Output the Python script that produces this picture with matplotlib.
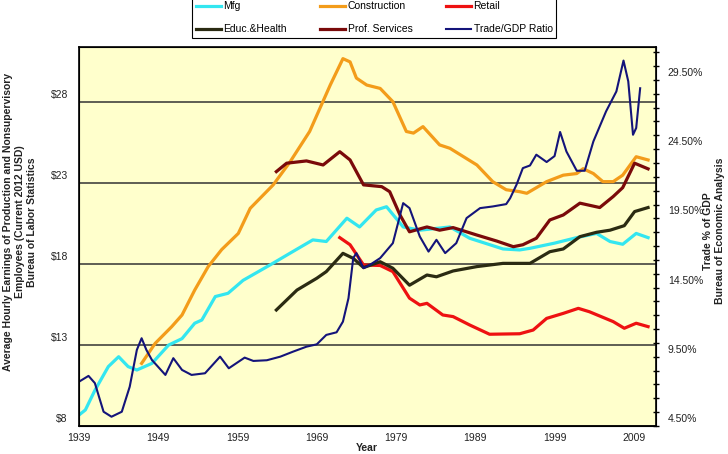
import matplotlib
matplotlib.use("Agg")
import matplotlib.pyplot as plt
import matplotlib.transforms as mtransforms

plt.rcParams["font.family"] = ["Liberation Sans", "DejaVu Sans"]

# ---- data ----
mfg_years = [1939.0, 1939.8, 1941.0, 1942.7, 1944.0, 1945.2, 1946.3, 1948.2, 1950.3, 1952.0,
             1953.6, 1954.5, 1956.2, 1957.8, 1959.7, 1963.1, 1965.6, 1968.5, 1970.2, 1972.8,
             1974.4, 1976.5, 1977.8, 1979.9, 1982.0, 1985.8, 1988.3, 1992.5, 1994.6, 1995.9,
             1999.0, 2001.8, 2004.3, 2006.0, 2007.6, 2009.3, 2010.8]
mfg = [8.68, 8.99, 10.2, 11.67, 12.28, 11.67, 11.46, 11.87, 13.0, 13.4,
       14.35, 14.55, 16.0, 16.2, 17.0, 17.95, 18.67, 19.5, 19.4, 20.84,
       20.3, 21.35, 21.55, 20.3, 20.1, 20.3, 19.6, 18.94, 18.88, 18.98,
       19.3, 19.64, 19.9, 19.4, 19.23, 19.9, 19.64]

constr_years = [1946.9, 1948.6, 1950.7, 1952.0, 1953.6, 1955.3, 1957.0, 1959.1, 1960.6, 1963.5,
                1965.6, 1968.1, 1970.7, 1972.3, 1973.2, 1974.0, 1975.3, 1977.0, 1978.6, 1980.3,
                1981.2, 1982.4, 1984.5, 1985.8, 1989.2, 1991.2, 1992.9, 1994.6, 1995.5, 1998.0,
                2000.1, 2001.8, 2002.6, 2003.9, 2005.1, 2006.4, 2007.6, 2009.3, 2010.8]
constr = [11.87, 13.1, 14.14, 14.86, 16.4, 17.85, 18.9, 19.9, 21.45, 22.9,
          24.3, 26.2, 29.07, 30.7, 30.5, 29.5, 29.07, 28.86, 28.04, 26.2,
          26.1, 26.5, 25.37, 25.16, 24.13, 23.1, 22.6, 22.48, 22.38, 23.1,
          23.5, 23.6, 23.9, 23.6, 23.1, 23.1, 23.5, 24.64, 24.44]

retail_years = [1971.9, 1973.2, 1974.9, 1977.0, 1978.6, 1980.7, 1982.0, 1982.9, 1984.9, 1986.2,
                1988.3, 1990.8, 1994.6, 1996.3, 1998.0, 2000.1, 2002.0, 2003.4, 2006.4, 2007.8,
                2009.3, 2010.8]
retail = [19.64, 19.2, 17.95, 17.92, 17.54, 15.9, 15.48, 15.58, 14.86, 14.76,
          14.24, 13.67, 13.7, 13.93, 14.65, 14.96, 15.27, 15.06, 14.45, 14.04,
          14.35, 14.14]

educ_years = [1963.9, 1966.5, 1969.0, 1970.2, 1972.3, 1973.6, 1974.9, 1977.0, 1978.6, 1980.7,
              1982.9, 1984.1, 1986.2, 1989.2, 1992.5, 1995.9, 1998.4, 2000.1, 2002.2, 2004.3,
              2006.0, 2007.8, 2009.1, 2010.8]
educ = [15.17, 16.4, 17.13, 17.54, 18.67, 18.36, 17.79, 18.15, 17.75, 16.7,
        17.33, 17.22, 17.58, 17.85, 18.05, 18.05, 18.77, 18.94, 19.7, 19.97,
        20.1, 20.38, 21.25, 21.5]

prof_years = [1963.9, 1965.2, 1967.7, 1969.8, 1971.9, 1973.2, 1974.9, 1977.2, 1978.2, 1979.5,
              1980.7, 1982.9, 1984.5, 1986.2, 1989.2, 1991.7, 1993.8, 1995.0, 1996.7, 1998.4,
              2000.1, 2002.2, 2004.7, 2006.4, 2007.6, 2009.1, 2010.8]
prof = [23.72, 24.24, 24.38, 24.13, 24.95, 24.44, 22.9, 22.79, 22.48, 21.04,
        20.0, 20.3, 20.1, 20.26, 19.8, 19.43, 19.08, 19.2, 19.6, 20.73,
        21.04, 21.77, 21.5, 22.18, 22.73, 24.24, 23.89]

trade_years = [1939.0, 1940.2, 1941.0, 1942.1, 1943.1, 1944.4, 1945.4, 1946.3, 1946.9, 1947.5,
               1948.2, 1949.9, 1950.9, 1952.0, 1953.2, 1954.9, 1956.8, 1957.9, 1959.9, 1961.0,
               1962.7, 1964.4, 1966.0, 1967.7, 1969.0, 1970.2, 1971.5, 1972.3, 1973.0, 1973.6,
               1974.0, 1974.9, 1975.7, 1977.0, 1978.6, 1979.9, 1980.7, 1982.0, 1983.1, 1984.1,
               1985.2, 1986.6, 1987.9, 1989.6, 1991.2, 1992.9, 1993.4, 1994.2, 1995.0, 1995.9,
               1996.7, 1998.0, 1999.0, 1999.7, 2000.5, 2001.8, 2002.8, 2003.9, 2005.5, 2006.8,
               2007.7, 2008.3, 2008.9, 2009.3, 2009.8]
trade = [7.7, 8.12, 7.6, 5.53, 5.17, 5.53, 7.34, 10.0, 10.84, 10.0,
         9.27, 8.19, 9.4, 8.55, 8.19, 8.31, 9.51, 8.67, 9.44, 9.2,
         9.25, 9.51, 9.87, 10.23, 10.4, 11.08, 11.27, 12.04, 13.73, 16.63,
         16.99, 15.9, 16.14, 16.63, 17.71, 20.6, 20.24, 18.19, 17.1, 17.95,
         16.99, 17.71, 19.52, 20.24, 20.36, 20.53, 20.96, 21.93, 23.13, 23.32,
         24.1, 23.57, 24.0, 25.74, 24.33, 22.94, 22.94, 25.06, 27.23, 28.67,
         30.9, 29.4, 25.54, 26.03, 28.9]

year_ticks = [1939, 1949, 1959, 1969, 1979, 1989, 1999, 2009]
wage_ticks = [8, 13, 18, 23, 28]
pct_ticks = [4.5, 9.5, 14.5, 19.5, 24.5, 29.5]

# ---- figure ----
fig = plt.figure(figsize=(7.28, 4.54), dpi=100)
ax = fig.add_axes([79 / 728, 28 / 454, 577 / 728, 379 / 454])
ax.set_facecolor("#FFFFCC")

lw = 2.3
l_mfg, = ax.plot(mfg_years, mfg, color="#33E6F0", lw=lw, label="Mfg")
l_con, = ax.plot(constr_years, constr, color="#F39C1A", lw=lw, label="Construction")
l_ret, = ax.plot(retail_years, retail, color="#EE1111", lw=lw, label="Retail")
l_edu, = ax.plot(educ_years, educ, color="#2B2B12", lw=lw, label="Educ.&Health")
l_pro, = ax.plot(prof_years, prof, color="#7A0A0A", lw=lw, label="Prof. Services")

ax.set_xlim(1939, 2011.8)
ax.set_ylim(8, 31.42)
ax.set_xticks(year_ticks)
ax.set_yticks(wage_ticks)
ax.set_yticklabels(["$%d" % v for v in wage_ticks])
ax.tick_params(axis="both", length=0, labelsize=7.5, colors="#222222")
ax.tick_params(axis="y", pad=8)
ax.tick_params(axis="x", pad=5)
ax.yaxis.grid(True, color="#333333", lw=1.1)
ax.set_axisbelow(True)
for s in ax.spines.values():
    s.set_color("black")
    s.set_linewidth(1.2)

ax2 = ax.twinx()
l_tr, = ax2.plot(trade_years, trade, color="#14147A", lw=1.5, label="Trade/GDP Ratio")
ax2.set_ylim(4.5, 31.88)
ax2.set_yticks(pct_ticks)
ax2.set_yticklabels(["%.2f%%" % v for v in pct_ticks])
ax2.yaxis.set_minor_locator(matplotlib.ticker.FixedLocator([4.5 + i for i in range(28)]))
ax2.tick_params(axis="y", which="both", direction="inout", length=5, width=1,
                labelsize=7.5, pad=6, colors="black")
ax2.tick_params(axis="y", which="both", labelcolor="#222222")

# tick labels sit slightly above their ticks in the original
off = mtransforms.ScaledTranslation(0, 0.08, fig.dpi_scale_trans)
for lab in ax.get_yticklabels() + ax2.get_yticklabels():
    lab.set_transform(lab.get_transform() + off)

fig.text(20 / 728, 1 - 222 / 454,
         "Average Hourly Earnings of Production and Nonsupervisory\n"
         "Employees (Current 2012 USD)\nBureau of Labor Statistics",
         rotation=90, ha="center", va="center", multialignment="center",
         fontsize=7.5, fontweight="bold", color="#222222", linespacing=1.2)
fig.text(714 / 728, 1 - 231 / 454, "Trade % of GDP\nBureau of Economic Analysis",
         rotation=90, ha="center", va="center", multialignment="center",
         fontsize=7.5, fontweight="bold", color="#222222", linespacing=1.2)
fig.text(367 / 728, 1 - 443 / 454, "Year", ha="center", va="top",
         fontsize=7.5, fontweight="bold", color="#222222")

handles = [l_mfg, l_edu, l_con, l_pro, l_ret, l_tr]
leg = fig.legend(handles, [h.get_label() for h in handles], ncol=3,
                 loc="lower left", bbox_to_anchor=(192 / 728, 1 - 38 / 454),
                 frameon=True, fancybox=False, edgecolor="black", framealpha=1,
                 fontsize=7.5, handlelength=2.4, handletextpad=0.25,
                 columnspacing=3.2, labelspacing=1.25, borderpad=0.35,
                 borderaxespad=0)
leg.get_frame().set_linewidth(0.8)

fig.savefig("out.png", dpi=100)
